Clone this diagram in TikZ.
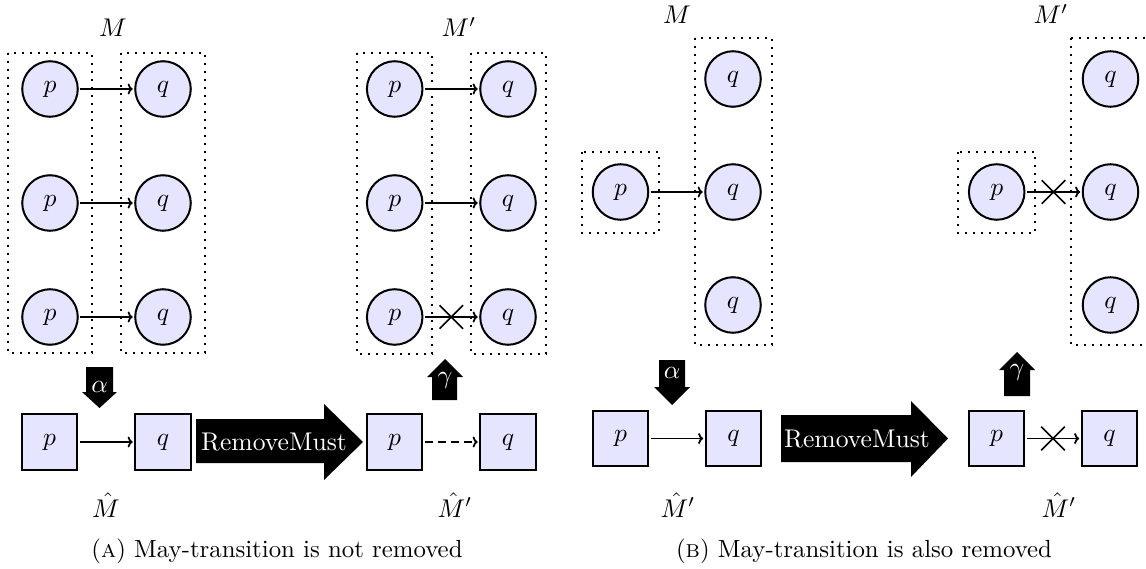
\documentclass[tikz,border=0pt]{standalone}
\usetikzlibrary{shapes.misc,arrows.meta}
\tikzset{
  big/.style={scale=2.56},
  st/.style={circle,draw,line width=2pt,fill=blue!10,minimum size=21.7pt,inner sep=0pt,big},
  sq/.style={rectangle,draw,line width=2pt,fill=blue!10,minimum size=21.7pt,inner sep=0pt,big},
  grp/.style={dash pattern=on 2pt off 6pt,line width=2pt},
  tr/.style={-{To[length=5pt,width=11pt]},line width=1.8pt},
  maytr/.style={-{To[length=5pt,width=11pt]},line width=1.8pt,dash pattern=on 8pt off 5pt},
  xm/.style={cross out,draw,line width=1.6pt,minimum size=22pt,inner sep=0pt},
  bigarrow/.style={fill=black},
  wtext/.style={text=white,inner sep=0pt,big},
  lab/.style={anchor=base,big},
  captxt/.style={anchor=base,scale=2.48},
}
\begin{document}
\begin{tikzpicture}[x=1pt,y=-1pt]
\useasboundingbox (0,0) rectangle (1146,569);
\clip (0,0) rectangle (1146,569);

% ---------- (a) left: M ----------
\draw[grp] (8,53) rectangle (92,353);
\draw[grp] (121,53) rectangle (205,353);
\node[st] (pa1) at (50,89) {$p$};
\node[st] (qa1) at (163,89) {$q$};
\node[st] (pa2) at (50,203) {$p$};
\node[st] (qa2) at (163,203) {$q$};
\node[st] (pa3) at (50,317) {$p$};
\node[st] (qa3) at (163,317) {$q$};
\draw[tr] (pa1) -- (qa1);
\draw[tr] (pa2) -- (qa2);
\draw[tr] (pa3) -- (qa3);
\node[lab] (lM) at (113,37) {$M$};

% ---------- (a) right: M' ----------
\draw[grp] (357,53) rectangle (432,354);
\draw[grp] (471,53) rectangle (546,354);
\node[st] (pb1) at (394.7,89) {$p$};
\node[st] (qb1) at (508,89) {$q$};
\node[st] (pb2) at (394.7,203) {$p$};
\node[st] (qb2) at (508,203) {$q$};
\node[st] (pb3) at (394.7,317) {$p$};
\node[st] (qb3) at (508,317) {$q$};
\draw[tr] (pb1) -- (qb1);
\draw[tr] (pb2) -- (qb2);
\draw[tr] (pb3) -- node[xm] (xa) {} (qb3);
\node[lab] (lMp) at (459,37) {$M'$};

% ---------- (a) bottom ----------
\node[sq] (sap) at (49.5,442) {$p$};
\node[sq] (saq) at (163,442) {$q$};
\draw[tr] (sap) -- (saq);
\node[sq] (sbp) at (394.5,442) {$p$};
\node[sq] (sbq) at (508,442) {$q$};
\draw[maytr] (sbp) -- (sbq);
\node[lab] (lMh) at (106,517) {$\hat{M}$};
\node[lab] (lMhp) at (455,517) {$\hat{M}'$};

% alpha arrow (a)
\fill[bigarrow] (86,367) -- (113,367) -- (113,392) -- (117,392) -- (99.5,408) -- (82,392) -- (86,392) -- cycle;
\node[wtext] (alA) at (99.5,387) {$\alpha$};
% gamma arrow (a)
\fill[bigarrow] (445,359) -- (463,377) -- (457,377) -- (457,400) -- (432,400) -- (432,377) -- (427,377) -- cycle;
\node[wtext] (gaA) at (445,380) {$\gamma$};
% RemoveMust (a)
\fill[bigarrow] (196,419) -- (324,419) -- (324,404) -- (363,442) -- (324,480) -- (324,463) -- (196,463) -- cycle;
\node[wtext] (rmA) at (274,442) {RemoveMust};

\node[captxt] (capA) at (277,557) {(\textsc{a}) May-transition is not removed};

% ---------- (b) left: M ----------
\draw[grp] (582,152) rectangle (659,233);
\draw[grp] (695,38) rectangle (772,345);
\node[st] (pc) at (620.5,192) {$p$};
\node[st] (qc1) at (733,79) {$q$};
\node[st] (qc2) at (733,192) {$q$};
\node[st] (qc3) at (733,305) {$q$};
\draw[tr] (pc) -- (qc2);
\node[lab] (lM2) at (677,24) {$M$};

% ---------- (b) right: M' ----------
\draw[grp] (958,152) rectangle (1035,233);
\draw[grp] (1071,38) rectangle (1149,345);
\node[st] (pd) at (996.7,192) {$p$};
\node[st] (qd1) at (1110.5,79) {$q$};
\node[st] (qd2) at (1110.5,192) {$q$};
\node[st] (qd3) at (1110.5,305) {$q$};
\draw[tr] (pd) -- node[xm] (xb) {} (qd2);
\node[lab] (lMp2) at (1051,24) {$M'$};

% ---------- (b) bottom ----------
\node[sq] (scp) at (620.5,438.5) {$p$};
\node[sq] (scq) at (733.5,438.5) {$q$};
\draw[tr] (scp) -- (scq);
\node[sq] (sdp) at (996.5,438.5) {$p$};
\node[sq] (sdq) at (1109.5,438.5) {$q$};
\draw[tr] (sdp) -- node[xm] (xc) {} (sdq);
\node[lab] (lMhp2) at (678,517) {$\hat{M}'$};
\node[lab] (lMhp3) at (1059,517) {$\hat{M}'$};

% alpha arrow (b)
\fill[bigarrow] (659,360) -- (685,360) -- (685,387) -- (690,387) -- (672,405) -- (654,387) -- (659,387) -- cycle;
\node[wtext] (alB) at (672,373) {$\alpha$};
% gamma arrow (b)
\fill[bigarrow] (1017,352) -- (1035,370) -- (1030,370) -- (1030,396) -- (1004,396) -- (1004,370) -- (999,370) -- cycle;
\node[wtext] (gaB) at (1017,372) {$\gamma$};
% RemoveMust (b)
\fill[bigarrow] (781,415) -- (911,415) -- (911,401) -- (948,438.5) -- (911,477) -- (911,462) -- (781,462) -- cycle;
\node[wtext] (rmB) at (857,439) {RemoveMust};

\node[captxt] (capB) at (864,557) {(\textsc{b}) May-transition is also removed};
\end{tikzpicture}
\end{document}
